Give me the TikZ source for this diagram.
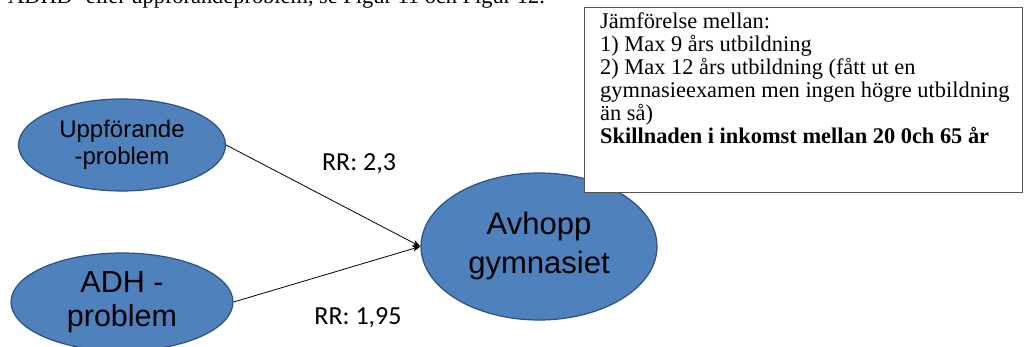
\documentclass[tikz,border=0pt]{standalone}
\usepackage{fontspec}
\setmainfont{Liberation Serif}
\newfontfamily\arialfont{Liberation Sans}
\newfontfamily\calfont{Carlito}
\usetikzlibrary{shapes.geometric,arrows.meta}
\definecolor{ovalfill}{HTML}{4F81BD}
\definecolor{ovaledge}{HTML}{2F5080}
\definecolor{boxedge}{HTML}{555555}

\begin{document}
\begin{tikzpicture}[x=1pt,y=-1pt,
  oval/.style={ellipse, draw=ovaledge, fill=ovalfill, line width=1.2pt,
    inner sep=0pt, align=center},
  link/.style={draw=black, line width=0.8pt, -{Stealth[length=8pt,width=6pt]}},
  rrlabel/.style={font=\calfont\fontsize{26}{30}\selectfont, anchor=base, inner sep=0pt}]
\useasboundingbox (0,0) rectangle (1025,347);
\fill[white] (0,0) rectangle (1025,347);
\clip (0,0) rectangle (1025,347);

% running text line above the figure, cut at the page top
\node (head) [anchor=base west, inner sep=0pt, font=\fontsize{22.4}{23}\selectfont]
  at (8,4) {ADHD- eller uppförandeproblem, se Figur 11 och Figur 12.};

% causes and outcome
\node (u) [oval, minimum width=207pt, minimum height=92pt,
  font=\arialfont\fontsize{24}{27}\selectfont] at (122,145) {Uppförande\\-problem};
\node (a) [oval, minimum width=222pt, minimum height=98pt,
  font=\arialfont\fontsize{30.5}{34}\selectfont] at (122,302) {ADH -\\problem};
\node (g) [oval, minimum width=236pt, minimum height=147pt,
  font=\arialfont\fontsize{31}{39}\selectfont] at (539,246.5)
  {\raisebox{-3pt}{\begin{tabular}{@{}c@{}}Avhopp\\gymnasiet\end{tabular}}};

% relative risks
\draw[link] (u.east) -- (g.west);
\draw[link] (a.east) -- (g.west);
\node (r1) [rrlabel] at (359,170.5) {RR: 2,3};
\node (r2) [rrlabel] at (358,324) {RR: 1,95};

% comparison note
\node (box) [draw=boxedge, fill=white, line width=1pt, minimum width=438pt,
  minimum height=185pt, anchor=north west, inner sep=0pt] at (584,7) {};
\node (txt) [anchor=north west, inner sep=0pt, align=left,
  font=\fontsize{22.4}{23}\selectfont] at (600,12.6)
  {Jämförelse mellan:\\1) Max 9 års utbildning\\2) Max 12 års utbildning (fått ut en\\gymnasieexamen men ingen högre utbildning\\än så)\\\textbf{Skillnaden i inkomst mellan 20 0ch 65 år}};
\end{tikzpicture}
\end{document}
